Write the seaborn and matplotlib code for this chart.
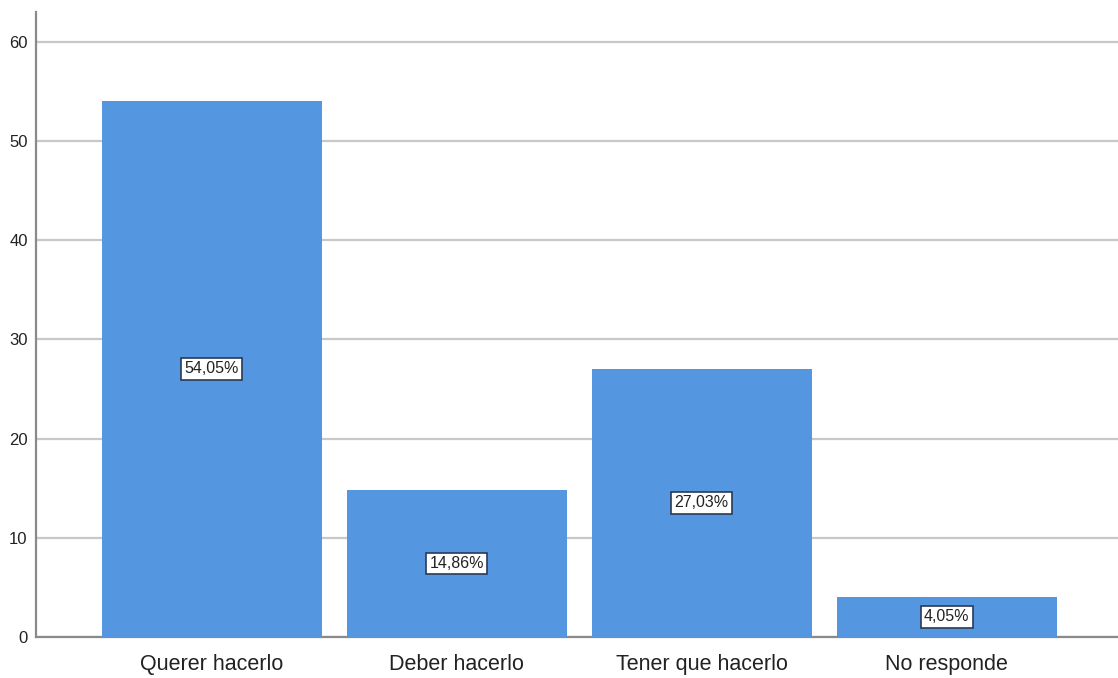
import matplotlib
matplotlib.use("Agg")
import pandas as pd
import matplotlib.pyplot as plt
import seaborn as sns

# datos
categorias = ["Querer hacerlo", "Deber hacerlo", "Tener que hacerlo", "No responde"]
porcentajes = [54.05, 14.86, 27.03, 4.05]
etiquetas = ["54,05%", "14,86%", "27,03%", "4,05%"]
ticks_y = [0, 10, 20, 30, 40, 50, 60]

df = pd.DataFrame({"categoria": categorias, "porcentaje": porcentajes})

sns.set_style("white")
plt.rcParams["font.family"] = ["Liberation Sans", "DejaVu Sans"]

fig = plt.figure(figsize=(11.18, 6.78), dpi=100)
ax = fig.add_axes([36 / 1118, 41 / 678, 1 - 36 / 1118, 625 / 678])

sns.barplot(
    data=df,
    x="categoria",
    y="porcentaje",
    color="#5596e0",
    saturation=1,
    width=0.898,
    linewidth=0,
    ax=ax,
    zorder=3,
)

ax.set_ylim(0, 63)
ax.set_xlim(-0.718, 3.70)
ax.set_yticks(ticks_y)
ax.set_yticklabels([str(t) for t in ticks_y], fontsize=12, color="#222222")
ax.tick_params(axis="x", labelsize=15.5, colors="#222222", length=0, pad=12)
ax.tick_params(axis="y", length=0, pad=6)

ax.grid(axis="y", color="#c8c8c8", linewidth=1.6, zorder=0)
ax.set_axisbelow(True)

for lado in ["top", "right"]:
    ax.spines[lado].set_visible(False)
ax.spines["left"].set_color("#8a8a8a")
ax.spines["left"].set_linewidth(1.6)
ax.spines["bottom"].set_color("#8a8a8a")
ax.spines["bottom"].set_linewidth(1.6)

ax.set_xlabel("")
ax.set_ylabel("")

# etiquetas en el centro de cada barra
for i, (valor, texto) in enumerate(zip(porcentajes, etiquetas)):
    ax.text(
        i,
        valor / 2,
        texto,
        ha="center",
        va="center",
        fontsize=11.5,
        color="#222222",
        zorder=5,
        bbox=dict(boxstyle="square,pad=0.2", facecolor="white",
                  edgecolor="#2a3a55", linewidth=1.2),
    )

fig.savefig("out.png", dpi=100)
